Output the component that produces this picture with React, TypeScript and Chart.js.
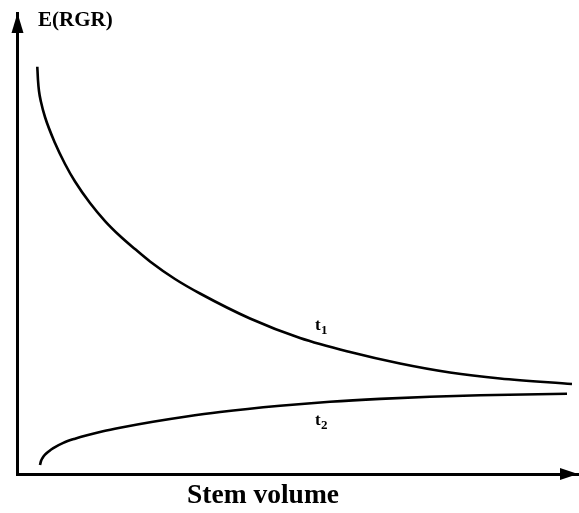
import { useEffect, useRef } from "react";
import { Chart, registerables } from "chart.js";

Chart.register(...registerables);

// Stem volume (arbitrary units, 0–100) and expected relative growth rate at time t1
const t1Volume = [
  3.62, 3.74, 3.92, 4.28, 4.99, 6.77, 8.56, 10.34, 13.01, 15.69, 18.36,
  21.03, 23.71, 28.16, 32.62, 41.53, 50.45, 59.36, 68.27, 77.18, 86.1, 98.93,
];
const t1Rgr = [
  88.35, 85.47, 83.08, 80.69, 77.44, 71.8, 67.25, 63.45, 58.79, 54.88, 51.63,
  48.8, 46.1, 42.3, 39.15, 33.73, 29.5, 26.46, 23.97, 22.02, 20.72, 19.52,
];

// ... and at time t2
const t2Volume = [
  4.1, 4.28, 4.55, 4.99, 5.7, 6.47, 8.25, 10.34, 12.48, 15.33, 18.36,
  24.24, 29.95, 36.19, 46.88, 55.79, 64.71, 73.62, 82.53, 98.04,
];
const t2Rgr = [
  1.95, 2.82, 3.47, 4.18, 4.95, 5.62, 6.75, 7.66, 8.42, 9.28, 10.04,
  11.34, 12.43, 13.45, 14.79, 15.66, 16.29, 16.75, 17.07, 17.4,
];

const yAxisLabel = "E(RGR)";
const xAxisLabel = "Stem volume";

// Curve names ("t" with a subscript) anchored in data units
const curveNames = ["1", "2"];
const curveNameX = [53.1, 53.1];
const curveNameY = [31.24, 10.63];

const SERIF = "'Liberation Serif', 'Times New Roman', serif";

const toPoints = (xs: number[], ys: number[]) => xs.map((x, i) => ({ x, y: ys[i] }));

const decorations = {
  id: "decorations",
  afterDraw(chart: Chart) {
    const { ctx, chartArea, scales } = chart;
    const xs = scales.x;
    const ys = scales.y;
    const axisX = xs.left + 0.5;
    const axisY = ys.bottom;
    ctx.save();
    ctx.fillStyle = "#000";

    // arrowhead on the vertical axis
    ctx.beginPath();
    ctx.moveTo(axisX, chartArea.top);
    ctx.lineTo(axisX - 6, chartArea.top + 20);
    ctx.lineTo(axisX + 6, chartArea.top + 20);
    ctx.closePath();
    ctx.fill();

    // arrowhead on the horizontal axis
    ctx.beginPath();
    ctx.moveTo(chartArea.right, axisY);
    ctx.lineTo(chartArea.right - 18, axisY - 6);
    ctx.lineTo(chartArea.right - 18, axisY + 6);
    ctx.closePath();
    ctx.fill();

    // vertical axis name, beside the arrow
    ctx.font = `bold 21px ${SERIF}`;
    ctx.textAlign = "left";
    ctx.textBaseline = "alphabetic";
    ctx.fillText(yAxisLabel, chartArea.left + 21, chartArea.top + 13);

    // horizontal axis name, under the axis
    ctx.font = `bold 27.5px ${SERIF}`;
    ctx.textAlign = "center";
    ctx.fillText(xAxisLabel, chartArea.left + 246, chartArea.bottom + 29);

    // curve names
    ctx.textAlign = "left";
    curveNames.forEach((sub, i) => {
      const px = xs.getPixelForValue(curveNameX[i]);
      const py = ys.getPixelForValue(curveNameY[i]);
      ctx.font = `bold 17px ${SERIF}`;
      ctx.fillText("t", px, py);
      const w = ctx.measureText("t").width;
      ctx.font = `bold 13px ${SERIF}`;
      ctx.fillText(sub, px + w + 0.5, py + 4);
    });
    ctx.restore();
  },
};

export default function App() {
  const canvasRef = useRef<HTMLCanvasElement | null>(null);

  useEffect(() => {
    if (!canvasRef.current) return;
    const chart = new Chart(canvasRef.current, {
      type: "line",
      data: {
        datasets: [
          {
            label: "t1",
            data: toPoints(t1Volume, t1Rgr),
            borderColor: "#000",
            borderWidth: 2.6,
            pointRadius: 0,
            cubicInterpolationMode: "monotone",
            fill: false,
          },
          {
            label: "t2",
            data: toPoints(t2Volume, t2Rgr),
            borderColor: "#000",
            borderWidth: 2.6,
            pointRadius: 0,
            cubicInterpolationMode: "monotone",
            fill: false,
          },
        ],
      },
      options: {
        responsive: false,
        animation: false,
        events: [],
        layout: { padding: { left: 17, right: 1, top: 13, bottom: 39 } },
        plugins: {
          legend: { display: false },
          tooltip: { enabled: false },
        },
        scales: {
          x: {
            type: "linear",
            min: 0,
            max: 100,
            grid: { display: false, drawTicks: false },
            ticks: { display: false },
            border: { display: true, color: "#000", width: 3 },
          },
          y: {
            type: "linear",
            min: 0,
            max: 100,
            grid: { display: false, drawTicks: false },
            ticks: { display: false },
            border: { display: true, color: "#000", width: 3 },
          },
        },
      },
      plugins: [decorations],
    });
    return () => chart.destroy();
  }, []);

  return (
    <div style={{ position: "absolute", left: 0, top: 0, width: 579, height: 513, background: "#fff" }}>
      <canvas ref={canvasRef} width={579} height={513} />
    </div>
  );
}
